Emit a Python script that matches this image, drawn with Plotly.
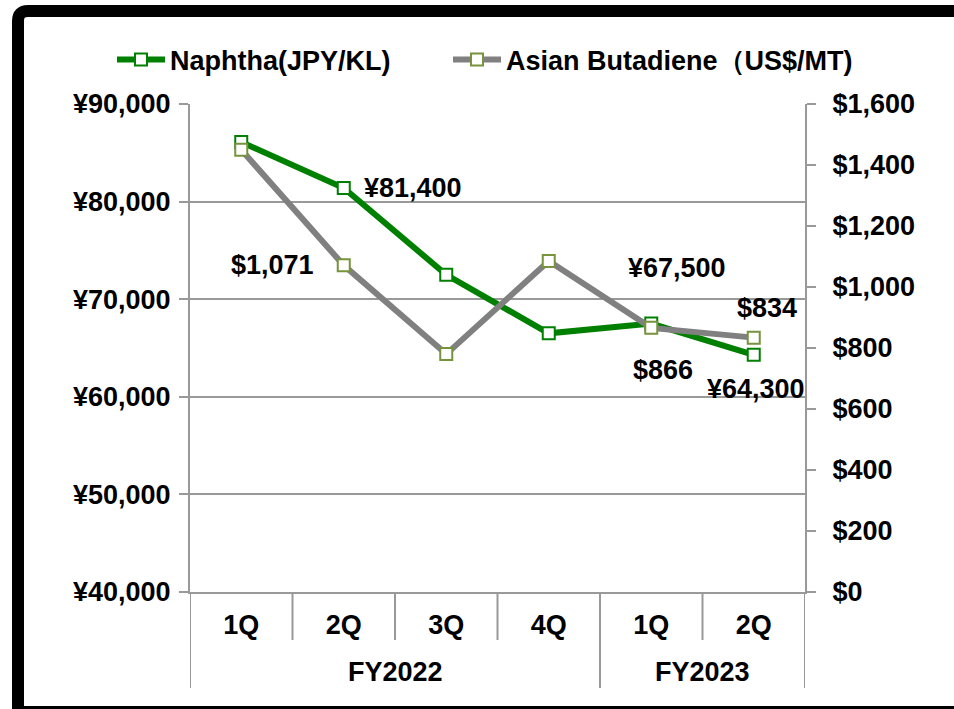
import plotly.graph_objects as go

fiscal_years = ["FY2022", "FY2022", "FY2022", "FY2022", "FY2023", "FY2023"]
quarters = ["1Q", "2Q", "3Q", "4Q", "1Q", "2Q"]
naphtha_jpy = [86100, 81400, 72500, 66500, 67500, 64300]
butadiene_usd = [1450, 1071, 780, 1085, 866, 834]

# labelled points: (index, text, anchor, xshift, yshift)
naphtha_labels = [(1, "¥81,400", "left", 18, 0), (4, "¥67,500", "center", 26, 56), (5, "¥64,300", "center", 2, -34)]
butadiene_labels = [(1, "$1,071", "right", -28, 0), (4, "$866", "center", 12, -42), (5, "$834", "center", 13, 30)]

FONT = "Liberation Sans, Arial, sans-serif"
GREEN = "#008000"
GRAY = "#808080"
AXGRAY = "#999999"
FS = 27

L, R, T, B = 190, 149, 104, 117
W, H = 954, 709
PW, PH = W - L - R, H - T - B


def px(xp):
    return (xp - L) / PW


def py(yp):
    return (H - B - yp) / PH


keys = [f"{fy} {q}" for fy, q in zip(fiscal_years, quarters)]

fig = go.Figure()
fig.add_trace(go.Scatter(
    x=keys, y=naphtha_jpy, name="Naphtha(JPY/KL)", legend="legend",
    mode="lines+markers",
    line=dict(color=GREEN, width=6),
    marker=dict(symbol="square", size=12, color="white", line=dict(color=GREEN, width=2)),
))
fig.add_trace(go.Scatter(
    x=keys, y=butadiene_usd, name="Asian Butadiene（US$/MT)", legend="legend2",
    mode="lines+markers", yaxis="y2",
    line=dict(color=GRAY, width=6),
    marker=dict(symbol="square", size=12, color="white", line=dict(color="#77933C", width=2)),
))

annotations = []
for i, txt, anc, xs, ys in naphtha_labels:
    annotations.append(dict(x=keys[i], y=naphtha_jpy[i], xref="x", yref="y", text=txt, showarrow=False,
                            xanchor=anc, yanchor="middle", xshift=xs, yshift=ys,
                            font=dict(family=FONT, size=FS, color="black", weight="bold")))
for i, txt, anc, xs, ys in butadiene_labels:
    annotations.append(dict(x=keys[i], y=butadiene_usd[i], xref="x", yref="y2", text=txt, showarrow=False,
                            xanchor=anc, yanchor="middle", xshift=xs, yshift=ys,
                            font=dict(family=FONT, size=FS, color="black", weight="bold")))

# fiscal-year group labels and separators on the category scale
shapes = []
groups = []
start = 0
for i in range(1, len(fiscal_years) + 1):
    if i == len(fiscal_years) or fiscal_years[i] != fiscal_years[start]:
        groups.append((fiscal_years[start], start, i - 1))
        start = i
inner_len = 48 / PH
outer_len = 96 / PH
for name, s, e in groups:
    annotations.append(dict(x=(s + e) / 2, y=-80 / PH, xref="x", yref="paper", text=name, showarrow=False,
                            xanchor="center", yanchor="middle",
                            font=dict(family=FONT, size=FS, color="black", weight="bold")))
    for b in range(s, e):
        shapes.append(dict(type="line", xref="x", yref="paper", x0=b + 0.5, x1=b + 0.5, y0=0, y1=-inner_len,
                           line=dict(color=AXGRAY, width=2)))
    for b in (s - 0.5, e + 0.5):
        shapes.append(dict(type="line", xref="x", yref="paper", x0=b, x1=b, y0=0, y1=-outer_len,
                           line=dict(color=AXGRAY, width=2)))

# frame with rounded top-left corner
x0, y0 = px(18), py(11)
x1, y1 = px(1000), py(712)
rx, ry = 10 / PW, 10 / PH
frame_path = (f"M {x0},{y1} L {x0},{y0 - ry} Q {x0},{y0} {x0 + rx},{y0} "
              f"L {x1},{y0} L {x1},{y1} Z")
shapes.append(dict(type="path", xref="paper", yref="paper", path=frame_path,
                   line=dict(color="black", width=12), layer="above"))

legend_common = dict(orientation="h", yanchor="middle", y=py(60), xanchor="left",
                     font=dict(size=27, family=FONT, weight="bold"), itemwidth=48,
                     bgcolor="rgba(0,0,0,0)", borderwidth=0)

fig.update_layout(
    width=W, height=H,
    margin=dict(l=L, r=R, t=T, b=B),
    paper_bgcolor="white", plot_bgcolor="white",
    font=dict(family=FONT, size=FS, color="black", weight="bold"),
    showlegend=True,
    legend=dict(x=px(112), **legend_common),
    legend2=dict(x=px(448), **legend_common),
    xaxis=dict(
        type="category", range=[-0.5, 5.5],
        tickvals=keys, ticktext=quarters,
        showline=True, linecolor=AXGRAY, linewidth=2,
        showgrid=False, ticks="",
        tickfont=dict(size=FS, family=FONT, weight="bold"),
        ticklabelstandoff=8,
    ),
    yaxis=dict(
        range=[40000, 90000], dtick=10000, tickprefix="¥", tickformat=",",
        showline=True, linecolor=AXGRAY, linewidth=2,
        showgrid=True, gridcolor=AXGRAY, gridwidth=2,
        ticks="outside", ticklen=9, tickcolor=AXGRAY, tickwidth=2,
        zeroline=False, tickfont=dict(size=FS, family=FONT, weight="bold"),
        ticklabelstandoff=3,
    ),
    yaxis2=dict(
        range=[0, 1600], dtick=200, tickprefix="$", tickformat=",",
        overlaying="y", side="right",
        showline=True, linecolor=AXGRAY, linewidth=2,
        showgrid=False, zeroline=False,
        ticks="outside", ticklen=9, tickcolor=AXGRAY, tickwidth=2,
        tickfont=dict(size=FS, family=FONT, weight="bold"),
        ticklabelstandoff=11,
    ),
    annotations=annotations,
    shapes=shapes,
)

fig.write_html("out.html", config={"displayModeBar": False},
               post_script="document.body.style.margin='0';document.body.style.overflow='hidden';")
